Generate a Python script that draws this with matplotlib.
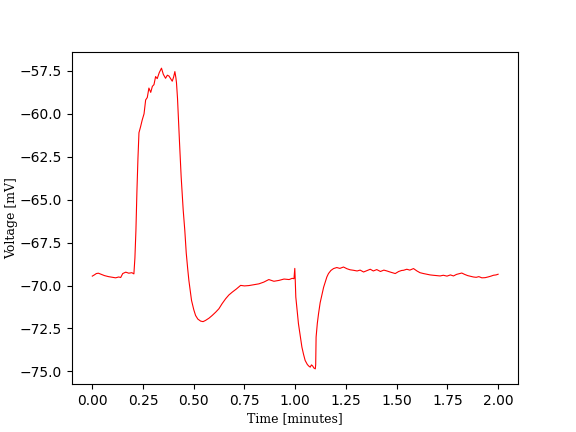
import numpy as np
import matplotlib
matplotlib.use("Agg")
import matplotlib.pyplot as plt

# values
time_min = [0.000, 0.010, 0.020, 0.030, 0.045, 0.060, 0.080, 0.100, 0.115, 0.130,
            0.140, 0.150, 0.165, 0.180, 0.195, 0.205, 0.210, 0.215, 0.220, 0.225,
            0.230, 0.238, 0.246, 0.255, 0.263, 0.271, 0.279, 0.288, 0.296, 0.304,
            0.312, 0.320, 0.330, 0.341, 0.350, 0.361, 0.370, 0.378, 0.386, 0.394,
            0.401, 0.407, 0.412, 0.415, 0.420, 0.424, 0.430, 0.438, 0.448, 0.456,
            0.463, 0.470, 0.476, 0.489, 0.500, 0.509, 0.520, 0.534, 0.546, 0.558,
            0.575, 0.591, 0.608, 0.624, 0.640, 0.657, 0.673, 0.690, 0.710, 0.731,
            0.750, 0.772, 0.795, 0.821, 0.845, 0.870, 0.895, 0.920, 0.945, 0.970,
            0.985, 0.994, 0.998, 1.000, 1.003, 1.010, 1.016, 1.025, 1.033, 1.041,
            1.049, 1.060, 1.068, 1.074, 1.080, 1.086, 1.092, 1.099, 1.101, 1.103,
            1.109, 1.115, 1.123, 1.131, 1.140, 1.148, 1.156, 1.164, 1.176, 1.189,
            1.205, 1.220, 1.238, 1.255, 1.270, 1.287, 1.305, 1.320, 1.337, 1.355,
            1.370, 1.385, 1.402, 1.420, 1.437, 1.452, 1.470, 1.493, 1.510, 1.525,
            1.534, 1.550, 1.565, 1.583, 1.600, 1.615, 1.632, 1.649, 1.665, 1.680,
            1.700, 1.714, 1.730, 1.748, 1.765, 1.780, 1.795, 1.810, 1.821, 1.835,
            1.850, 1.865, 1.878, 1.892, 1.905, 1.920, 1.936, 1.950, 1.965, 1.977,
            1.990, 2.000]
voltage_mv = [-69.45, -69.38, -69.30, -69.28, -69.35, -69.42, -69.48, -69.52, -69.55, -69.50,
              -69.53, -69.30, -69.22, -69.28, -69.25, -69.32, -68.40, -66.80, -64.50, -62.60,
              -61.10, -60.75, -60.36, -60.00, -59.19, -59.05, -58.50, -58.75, -58.40, -58.30,
              -57.83, -57.95, -57.60, -57.34, -57.70, -57.93, -57.75, -57.80, -57.95, -58.10,
              -57.85, -57.54, -57.90, -58.20, -59.10, -60.17, -61.70, -63.67, -65.60, -66.80,
              -68.10, -69.00, -69.70, -70.86, -71.40, -71.74, -71.95, -72.07, -72.10, -72.03,
              -71.90, -71.74, -71.55, -71.35, -71.05, -70.77, -70.55, -70.38, -70.20, -69.99,
              -70.02, -70.00, -69.95, -69.90, -69.80, -69.65, -69.75, -69.70, -69.62, -69.65,
              -69.58, -69.60, -69.00, -69.60, -70.67, -71.50, -72.22, -72.95, -73.58, -74.00,
              -74.36, -74.60, -74.70, -74.75, -74.62, -74.68, -74.80, -74.85, -74.60, -73.00,
              -72.20, -71.64, -71.00, -70.57, -70.10, -69.80, -69.50, -69.30, -69.12, -69.01,
              -68.95, -69.00, -68.92, -69.02, -69.08, -69.11, -69.15, -69.10, -69.21, -69.12,
              -69.05, -69.15, -69.07, -69.18, -69.10, -69.15, -69.22, -69.30, -69.18, -69.12,
              -69.11, -69.05, -69.10, -69.01, -69.15, -69.25, -69.30, -69.34, -69.38, -69.40,
              -69.42, -69.44, -69.40, -69.45, -69.38, -69.44, -69.35, -69.30, -69.27, -69.35,
              -69.42, -69.46, -69.50, -69.52, -69.48, -69.55, -69.54, -69.50, -69.45, -69.40,
              -69.38, -69.34]

fig, ax = plt.subplots(figsize=(5.76, 4.32), dpi=100)
ax.plot(time_min, voltage_mv, color='red', lw=0.8)

ax.set_xlabel('Time [minutes]', family='DejaVu Serif', fontsize=9, labelpad=2.5)
ax.set_ylabel('Voltage [mV]', family='DejaVu Serif', fontsize=9, labelpad=1)
ax.set_xlim(-0.1, 2.1)
ax.set_ylim(-75.76, -56.39)
ax.set_yticks(np.arange(-75.0, -57.0, 2.5))

fig.savefig('out.png', dpi=100)
plt.close(fig)
